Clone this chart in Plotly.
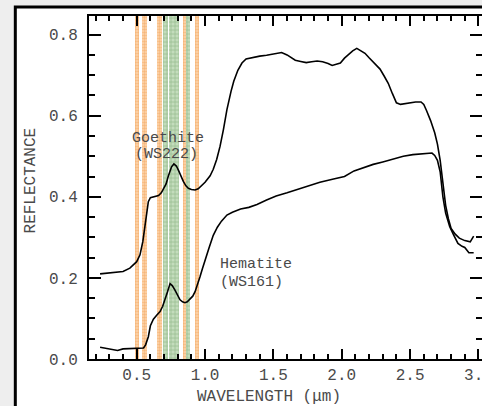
import plotly.graph_objects as go

# ---- data ----
goethite_wl = [0.232, 0.30, 0.36, 0.40, 0.45, 0.475, 0.50, 0.524, 0.545, 0.56, 0.575, 0.585, 0.60, 0.63,
               0.66, 0.68, 0.695, 0.715, 0.732, 0.755, 0.772, 0.79, 0.805, 0.825, 0.841, 0.86, 0.878,
               0.90, 0.927, 0.95, 0.975, 1.00, 1.037, 1.06, 1.085, 1.11, 1.134, 1.16, 1.19, 1.21,
               1.24, 1.27, 1.30, 1.35, 1.40, 1.45, 1.50, 1.56, 1.60, 1.63, 1.66, 1.70, 1.74, 1.78,
               1.82, 1.86, 1.90, 1.93, 1.96, 1.99, 2.02, 2.05, 2.08, 2.11, 2.14, 2.17, 2.20, 2.24,
               2.28, 2.31, 2.34, 2.37, 2.40, 2.43, 2.46, 2.50, 2.54, 2.58, 2.60, 2.62, 2.65, 2.68,
               2.70, 2.72, 2.74, 2.76, 2.78, 2.80, 2.83, 2.86, 2.90, 2.94, 2.965]
goethite_r = [0.210, 0.212, 0.214, 0.216, 0.224, 0.233, 0.240, 0.257, 0.290, 0.327, 0.365, 0.388, 0.398,
              0.400, 0.403, 0.410, 0.418, 0.432, 0.452, 0.474, 0.481, 0.476, 0.466, 0.450, 0.438, 0.427,
              0.421, 0.418, 0.417, 0.420, 0.427, 0.436, 0.452, 0.468, 0.492, 0.525, 0.565, 0.615, 0.660,
              0.685, 0.712, 0.730, 0.740, 0.744, 0.747, 0.749, 0.752, 0.756, 0.750, 0.744, 0.737, 0.734,
              0.731, 0.733, 0.735, 0.733, 0.729, 0.724, 0.727, 0.730, 0.742, 0.752, 0.760, 0.766, 0.760,
              0.754, 0.743, 0.730, 0.715, 0.698, 0.680, 0.655, 0.632, 0.628, 0.630, 0.631, 0.634, 0.634,
              0.628, 0.613, 0.588, 0.558, 0.530, 0.490, 0.430, 0.379, 0.346, 0.322, 0.308, 0.298, 0.292,
              0.289, 0.303]

hematite_wl = [0.232, 0.27, 0.30, 0.33, 0.36, 0.40, 0.45, 0.50, 0.55, 0.565, 0.585, 0.60, 0.622, 0.646,
               0.671, 0.69, 0.708, 0.725, 0.744, 0.76, 0.78, 0.80, 0.817, 0.835, 0.853, 0.87, 0.89,
               0.91, 0.927, 0.945, 0.963, 0.98, 1.00, 1.03, 1.06, 1.09, 1.12, 1.16, 1.20, 1.26,
               1.32, 1.38, 1.45, 1.52, 1.60, 1.68, 1.76, 1.84, 1.94, 2.02, 2.09, 2.16, 2.23, 2.30,
               2.38, 2.45, 2.52, 2.58, 2.64, 2.66, 2.68, 2.70, 2.72, 2.74, 2.76, 2.79, 2.82, 2.85,
               2.88, 2.90, 2.93, 2.965]
hematite_r = [0.029, 0.027, 0.026, 0.024, 0.021, 0.025, 0.026, 0.027, 0.027, 0.035, 0.055, 0.082, 0.098,
              0.108, 0.117, 0.130, 0.146, 0.165, 0.186, 0.181, 0.170, 0.156, 0.146, 0.141, 0.139,
              0.141, 0.147, 0.155, 0.166, 0.183, 0.203, 0.222, 0.245, 0.275, 0.305, 0.325, 0.340,
              0.355, 0.362, 0.370, 0.374, 0.381, 0.392, 0.402, 0.410, 0.419, 0.428, 0.436, 0.444,
              0.450, 0.464, 0.472, 0.480, 0.486, 0.493, 0.500, 0.504, 0.506, 0.509, 0.508, 0.502,
              0.490, 0.462, 0.400, 0.360, 0.326, 0.305, 0.285, 0.278, 0.275, 0.262, 0.262]

# spectral bands (centre wavelength, width in um)
orange_centers = [0.502, 0.558, 0.665, 0.855, 0.940]
orange_widths = [0.030, 0.034, 0.036, 0.028, 0.034]
green_centers = [0.713, 0.756, 0.793, 0.876]
green_widths = [0.036, 0.034, 0.036, 0.026]

y_ticks = [0.0, 0.2, 0.4, 0.6, 0.8]
x_ticks = [0.5, 1.0, 1.5, 2.0, 2.5, 3.0]

X_RANGE = [0.151, 3.026]
Y_RANGE = [0.0, 0.846]

FONT = "Liberation Mono, DejaVu Sans Mono, monospace"
TXT = "#4a4a4a"

fig = go.Figure()

fig.add_trace(go.Bar(
    x=orange_centers, y=[Y_RANGE[1]] * len(orange_centers), width=orange_widths,
    marker=dict(color="#fbd5ae", line=dict(width=0),
                pattern=dict(shape=".", fgcolor="#f29a48", size=3, solidity=0.5, fillmode="overlay")),
    showlegend=False, hoverinfo="skip"))
fig.add_trace(go.Bar(
    x=green_centers, y=[Y_RANGE[1]] * len(green_centers), width=green_widths,
    marker=dict(color="#c3dcbc", line=dict(width=0),
                pattern=dict(shape="+", fgcolor="#6f9f66", size=4, solidity=0.35, fillmode="overlay")),
    showlegend=False, hoverinfo="skip"))

fig.add_trace(go.Scatter(x=goethite_wl, y=goethite_r, mode="lines",
                         line=dict(color="black", width=1.6), showlegend=False))
fig.add_trace(go.Scatter(x=hematite_wl, y=hematite_r, mode="lines",
                         line=dict(color="black", width=1.6), showlegend=False))
# invisible trace so the right-hand tick axis is drawn
fig.add_trace(go.Scatter(x=[X_RANGE[0]], y=[Y_RANGE[0]], yaxis="y2", mode="markers",
                         marker=dict(opacity=0), showlegend=False, hoverinfo="skip"))

fig.update_layout(
    width=482, height=406,
    margin=dict(l=89, r=0, t=16, b=47, autoexpand=False),
    paper_bgcolor="#eeeeee",
    plot_bgcolor="rgba(0,0,0,0)",
    barmode="overlay", bargap=0,
    font=dict(family=FONT, size=16, color=TXT),
    xaxis=dict(range=X_RANGE, tickvals=x_ticks, tickformat=".1f",
               ticks="inside", ticklen=10, tickwidth=2, tickcolor="black",
               showline=True, linewidth=2, linecolor="black", mirror="ticks",
               showgrid=False, zeroline=False, ticklabelstandoff=0,
               ticklabeloverflow="allow", automargin=False,
               minor=dict(dtick=0.1, tick0=0, ticks="inside", ticklen=5, tickwidth=2,
                          tickcolor="black", showgrid=False)),
    yaxis=dict(range=Y_RANGE, tickvals=y_ticks, tickformat=".1f",
               ticks="inside", ticklen=12, tickwidth=2, tickcolor="black",
               showline=True, linewidth=2, linecolor="black", mirror=False,
               showgrid=False, zeroline=False, ticklabelstandoff=6, automargin=False,
               minor=dict(dtick=0.05, tick0=0, ticks="inside", ticklen=6, tickwidth=2,
                          tickcolor="black", showgrid=False)),
    yaxis2=dict(range=Y_RANGE, overlaying="y", side="right", anchor="x", tickvals=y_ticks,
                ticks="inside", ticklen=12, tickwidth=2, tickcolor="black",
                showline=False, showticklabels=False, showgrid=False, zeroline=False,
                automargin=False,
                minor=dict(dtick=0.05, tick0=0, ticks="inside", ticklen=6, tickwidth=2,
                           tickcolor="black", showgrid=False)),
    shapes=[dict(type="rect", xref="paper", yref="paper",
                 x0=-0.1875, x1=1.1, y0=-0.3, y1=1.026,
                 line=dict(color="black", width=3), fillcolor="white", layer="below")],
    annotations=[
        dict(text="REFLECTANCE", xref="paper", yref="paper", x=-0.148, y=0.52,
             textangle=-90, showarrow=False, xanchor="center", yanchor="middle"),
        dict(text="WAVELENGTH (μm)", xref="paper", yref="paper", x=0.458, y=-0.11,
             showarrow=False, xanchor="center", yanchor="middle"),
        dict(text="Goethite", x=0.73, y=0.545, showarrow=False, xanchor="center", yanchor="middle",
             font=dict(size=15)),
        dict(text="(WS222)", x=0.715, y=0.505, showarrow=False, xanchor="center", yanchor="middle",
             font=dict(size=15)),
        dict(text="Hematite", x=1.37, y=0.232, showarrow=False, xanchor="center", yanchor="middle",
             font=dict(size=15)),
        dict(text="(WS161)", x=1.34, y=0.189, showarrow=False, xanchor="center", yanchor="middle",
             font=dict(size=15)),
    ],
)

fig.write_html("out.html")
